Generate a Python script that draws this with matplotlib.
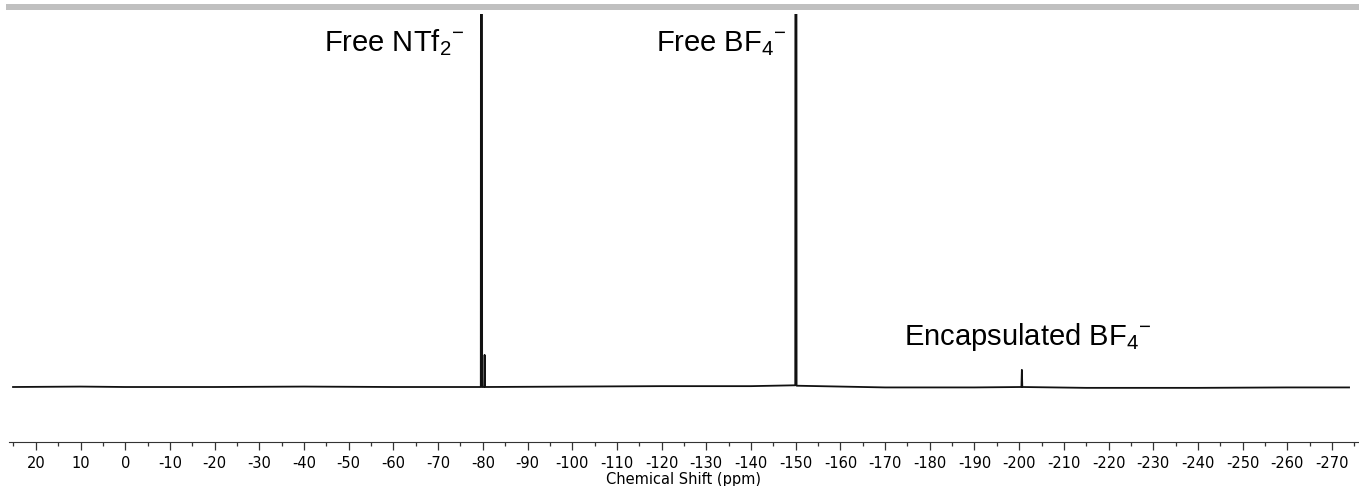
import numpy as np
import matplotlib.pyplot as plt
from matplotlib.patches import Rectangle

plt.rcParams['axes.unicode_minus'] = False
plt.rcParams['mathtext.fontset'] = 'custom'
plt.rcParams['mathtext.rm'] = 'Liberation Sans'
plt.rcParams['mathtext.it'] = 'Liberation Sans'

# Espectro 19F (ppm, intensidad relativa)
ppm = [25.1, 10, 0, -20, -40, -60, -79.55, -79.7, -79.85, -80.3,
       -80.4, -80.5, -100, -120, -140, -149.9, -150.05, -150.2,
       -170, -190, -200.5, -200.6, -200.7, -215, -240, -260, -273.8]
intensidad = [0.0, 0.001, 0.0, 0.0, 0.001, 0.0, 0.0, 5.0, 0.0, 0.0,
              0.075, 0.0, 0.001, 0.002, 0.002, 0.004, 5.0, 0.003,
              -0.001, -0.001, 0.0, 0.04, 0.0, -0.002, -0.002, -0.001, -0.001]

ticks_mayores = np.arange(20, -271, -10)
ticks_menores = np.arange(25, -276, -10)

etiquetas = [r'Free NTf$_2{}^{-}$', r'Free BF$_4{}^{-}$', r'Encapsulated BF$_4{}^{-}$']
pos_etiquetas = [-76.0, -148.0, -174.3]
alt_etiquetas = [0.785, 0.785, 0.098]
alin_etiquetas = ['right', 'right', 'left']

fig = plt.figure(figsize=(13.59, 4.86), dpi=100)
ax = fig.add_axes([9 / 1359, 44 / 486, 1349 / 1359, 428 / 486])

ax.plot(ppm, intensidad, color='#111111', linewidth=1.3)
ax.set_xlim(26, -275.8)
ax.set_ylim(-0.1285, 0.8715)

for texto, x, y, ha in zip(etiquetas, pos_etiquetas, alt_etiquetas, alin_etiquetas):
    ax.text(x, y, texto, ha=ha, va='baseline', fontsize=21,
            family='Liberation Sans', color='black')

ax.set_xticks(ticks_mayores)
ax.set_xticklabels([str(t) for t in ticks_mayores])
ax.set_xticks(ticks_menores, minor=True)
ax.tick_params(axis='x', which='major', direction='out', length=6, width=0.9,
               labelsize=10.5, pad=4, color='#333333')
ax.tick_params(axis='x', which='minor', direction='out', length=3, width=0.9,
               color='#333333')
ax.set_yticks([])
for lado in ['left', 'top', 'right']:
    ax.spines[lado].set_visible(False)
ax.spines['bottom'].set_color('#333333')
ax.set_xlabel('Chemical Shift (ppm)', fontsize=10.5, labelpad=1)

# Barra gris superior
fig.add_artist(Rectangle((6 / 1359, 1 - 10 / 486), 1, 6 / 486,
                         transform=fig.transFigure, color='#c0c0c0', lw=0))

fig.savefig('out.png', dpi=100)
